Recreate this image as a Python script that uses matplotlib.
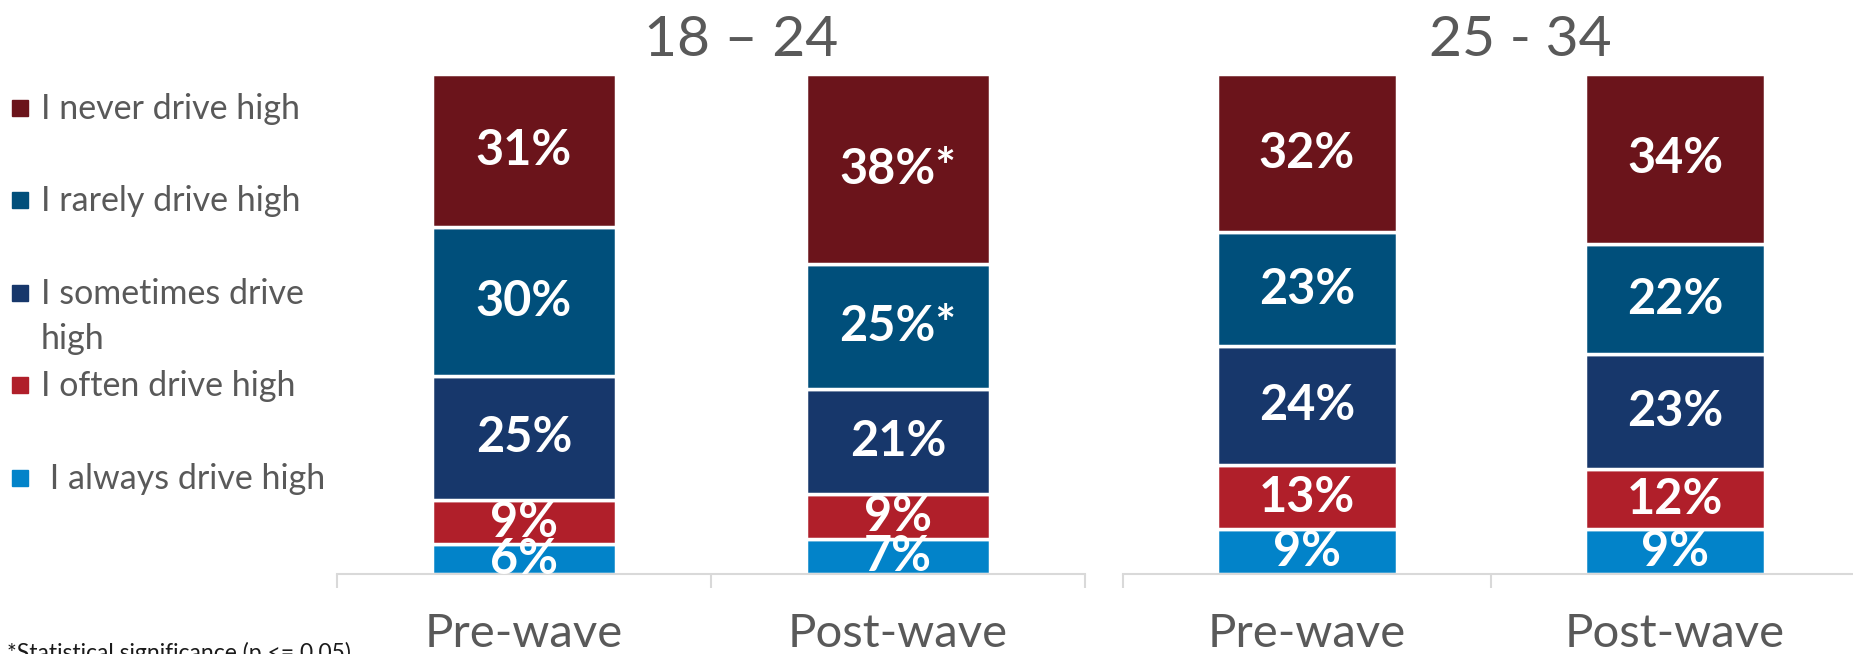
import matplotlib.pyplot as plt
from matplotlib.patches import Rectangle
import numpy as np

plt.rcParams['font.family'] = ['Lato', 'DejaVu Sans']

responses = ['I never drive high', 'I rarely drive high', 'I sometimes drive\nhigh',
             'I often drive high', ' I always drive high']
colors = ['#6B141B', '#004F7B', '#17376B', '#B01F2A', '#0283C9']
waves = ['Pre-wave', 'Post-wave']
age_groups = ['18 – 24', '25 - 34']

# percentages, same order as responses (top of the stack first)
young_pre = [31, 30, 25, 9, 6]
young_post = [38, 25, 21, 9, 7]
older_pre = [32, 23, 24, 13, 9]
older_post = [34, 22, 23, 12, 9]
# significant change vs pre-wave
young_sig = [True, True, False, False, False]
older_sig = [False, False, False, False, False]

panels = [
    (age_groups[0], [young_pre, young_post], [[False] * 5, young_sig]),
    (age_groups[1], [older_pre, older_post], [[False] * 5, older_sig]),
]

grey = '#595959'
axis_grey = '#D9D9D9'

fig = plt.figure(figsize=(18.53, 6.54), dpi=100)
W, H = 1853, 654
bottom = 1 - 574 / H
height = (574 - 74) / H
axes_px = [(337, 1085), (1123, 1859)]

for (title, data, sig), (x0, x1) in zip(panels, axes_px):
    ax = fig.add_axes([x0 / W, bottom, (x1 - x0) / W, height])
    x = np.arange(len(waves))
    for i, vals in enumerate(data):
        vals = np.array(vals, dtype=float)
        shares = vals / vals.sum()
        base = 0.0
        # stack from the bottom: always -> never
        for k in range(len(vals) - 1, -1, -1):
            ax.bar(x[i], shares[k], bottom=base, width=0.49, color=colors[k],
                   edgecolor='white', linewidth=2.5)
            label = f'{int(vals[k])}%' + ('*' if sig[i][k] else '')
            ax.text(x[i], base + shares[k] / 2, label, ha='center', va='center',
                    color='white', fontsize=35, fontweight='bold', clip_on=True)
            base += shares[k]
    ax.set_xlim(-0.5, 1.5)
    ax.set_ylim(0, 1)
    for s in ['top', 'right', 'left']:
        ax.spines[s].set_visible(False)
    ax.spines['bottom'].set_color(axis_grey)
    ax.spines['bottom'].set_linewidth(1.5)
    ax.set_yticks([])
    ax.set_xticks([-0.5, 0.5, 1.5])
    ax.set_xticklabels([])
    ax.tick_params(axis='x', which='major', length=10, width=1.5, color=axis_grey)
    ax.set_xticks(x, minor=True)
    ax.set_xticklabels(waves, minor=True)
    ax.tick_params(axis='x', which='minor', length=0, pad=28, labelsize=34, labelcolor=grey)
    ax.text(0.54, 1.037, title, transform=ax.transAxes, ha='center', va='baseline',
            fontsize=41, color=grey)

# legend (markers line up with the first text line)
legend_y = [108, 200, 293, 385, 478]
for label, c, yy in zip(responses, colors, legend_y):
    fig.patches.append(Rectangle((12 / W, 1 - (yy + 8) / H), 16 / W, 16 / H,
                                 transform=fig.transFigure, color=c, figure=fig))
    extra = label.count('\n') * 45
    fig.text(41 / W, 1 - (yy + 11 + extra) / H, label, ha='left', va='baseline',
             fontsize=24.5, color=grey, linespacing=1.51)

fig.text(7 / W, 1 - 660 / H, '*Statistical significance (p <= 0.05)', ha='left',
         va='baseline', fontsize=16.5, color='#1A1A1A')

fig.savefig('out.png', dpi=100)
